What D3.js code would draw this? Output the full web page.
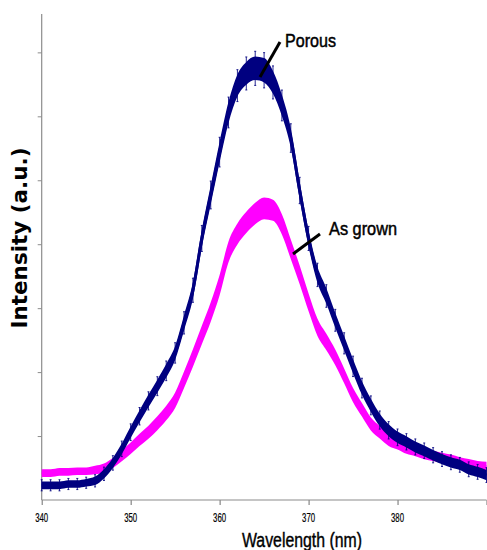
<!DOCTYPE html>
<html>
<head>
<meta charset="utf-8">
<script src="https://cdn.jsdelivr.net/npm/d3@7"></script>
<style>
  body { margin: 0; background: #fff; }
  svg { display: block; }
  .axis-line { stroke: #8c8c8c; stroke-width: 1.2; }
  .tick-label { font-family: "Liberation Sans", Arial, sans-serif; font-size: 12px; fill: #000; stroke: #000; stroke-width: 0.2; }
  .x-title { font-family: "Liberation Sans", Arial, sans-serif; font-size: 20px; fill: #000; stroke: #000; stroke-width: 0.4; }
  .y-title { font-family: "DejaVu Sans", Verdana, sans-serif; font-size: 21px; font-weight: bold; fill: #000; }
  .note { font-family: "Liberation Sans", Arial, sans-serif; font-size: 19px; fill: #000; stroke: #000; stroke-width: 0.5; }
</style>
</head>
<body>
<svg id="chart" width="487" height="550"></svg>
<script>
// wavelength (nm), one reading per nm
const wavelengths = d3.range(340, 391);

// PL intensity (a.u.)
const porous = [
  0.23, 0.23, 0.23, 0.25, 0.25, 0.27, 0.30, 0.41, 0.58, 0.80,
  1.06, 1.31, 1.55, 1.78, 2.02, 2.30, 2.77, 3.28, 4.09, 4.77,
  5.44, 6.06, 6.48, 6.67, 6.75, 6.72, 6.53, 6.17, 5.66, 4.84,
  4.09, 3.52, 3.19, 2.81, 2.45, 2.09, 1.75, 1.48, 1.25, 1.09,
  0.98, 0.91, 0.83, 0.77, 0.70, 0.64, 0.59, 0.55, 0.48, 0.44,
  0.39
];
const asGrown = [
  0.42, 0.42, 0.44, 0.44, 0.45, 0.45, 0.47, 0.50, 0.58, 0.69,
  0.81, 0.94, 1.06, 1.20, 1.36, 1.56, 1.88, 2.22, 2.58, 2.94,
  3.36, 3.88, 4.16, 4.34, 4.48, 4.56, 4.53, 4.31, 3.92, 3.52,
  3.09, 2.70, 2.47, 2.23, 1.94, 1.64, 1.41, 1.19, 1.06, 0.94,
  0.88, 0.81, 0.77, 0.72, 0.69, 0.66, 0.63, 0.59, 0.56, 0.53,
  0.52
];

// noise half-width of each trace, every 5 nm
const noiseWl = [340, 345, 350, 355, 360, 365, 370, 375, 380, 385, 390];
const porousNoise = [0.06, 0.06, 0.09, 0.11, 0.16, 0.19, 0.13, 0.11, 0.09, 0.08, 0.08];
const grownNoise = [0.06, 0.06, 0.09, 0.12, 0.16, 0.17, 0.14, 0.11, 0.09, 0.08, 0.08];

const xTicks = [340, 350, 360, 370, 380, 390];
const xTickLabels = ["340", "350", "360", "370", "380", ""];
const yTicks = [1, 2, 3, 4, 5, 6, 7];

const X_TITLE = "Wavelength (nm)";
const Y_TITLE = "Intensity (a.u.)";

const COLOR_POROUS = "#000080";
const COLOR_GROWN = "#ff00ff";

function spectrumChart(selector) {
    const svg = d3.select(selector);
    const plot = { left: 41.7, right: 486.5, top: 14, bottom: 500 };

    const x = d3.scaleLinear().domain([340, 390]).range([plot.left, plot.right]);
    const y = d3.scaleLinear().domain([0, 7.6]).range([plot.bottom, plot.top]);

    // Axes
    // ----------------------------------------
    const yAxis = d3.axisLeft(y).tickValues(yTicks).tickSize(4).tickFormat("");
    svg.append("g")
        .attr("transform", `translate(${plot.left},0)`)
        .call(yAxis)
        .call(g => g.select(".domain").remove())
        .call(g => g.selectAll("line").attr("stroke", "#8c8c8c"));
    svg.append("line")
        .attr("class", "axis-line")
        .attr("x1", plot.left).attr("x2", plot.left)
        .attr("y1", plot.top).attr("y2", plot.bottom);

    const xAxis = d3.axisBottom(x).tickValues(xTicks).tickSize(5).tickFormat("");
    svg.append("g")
        .attr("transform", `translate(0,${plot.bottom})`)
        .call(xAxis)
        .call(g => g.select(".domain").remove())
        .call(g => g.selectAll("line").attr("stroke", "#6e6e6e"));
    svg.append("line")
        .attr("class", "axis-line")
        .attr("x1", plot.left).attr("x2", plot.right)
        .attr("y1", plot.bottom).attr("y2", plot.bottom);

    // narrow tick labels, as in the original
    svg.append("g")
        .selectAll("text")
        .data(xTicks.filter((d, i) => xTickLabels[i] !== ""))
        .join("text")
        .attr("class", "tick-label")
        .attr("x", d => x(d))
        .attr("y", 522)
        .attr("text-anchor", "middle")
        .attr("textLength", 13)
        .attr("lengthAdjust", "spacingAndGlyphs")
        .text((d, i) => xTickLabels[i]);

    svg.append("text")
        .attr("class", "x-title")
        .attr("x", 302)
        .attr("y", 547)
        .attr("text-anchor", "middle")
        .attr("textLength", 120)
        .attr("lengthAdjust", "spacingAndGlyphs")
        .text(X_TITLE);

    svg.append("text")
        .attr("class", "y-title")
        .attr("transform", "translate(27,238) rotate(-90)")
        .attr("text-anchor", "middle")
        .attr("textLength", 181)
        .attr("lengthAdjust", "spacingAndGlyphs")
        .text(Y_TITLE);

    // Traces
    // ----------------------------------------
    function trace(values, noise, color, bars) {
        const spread = d3.scaleLinear().domain(noiseWl).range(noise);
        const pts = wavelengths.map((w, i) => ({ w: w, v: values[i], s: spread(w) }));
        const g = svg.append("g");

        const band = d3.area()
            .x(d => x(d.w))
            .y0(d => y(d.v - d.s))
            .y1(d => y(d.v + d.s))
            .curve(d3.curveMonotoneX);
        g.append("path")
            .datum(pts)
            .attr("fill", color)
            .attr("d", band);

        const line = d3.line()
            .x(d => x(d.w))
            .y(d => y(d.v))
            .curve(d3.curveMonotoneX);
        g.append("path")
            .datum(pts)
            .attr("fill", "none")
            .attr("stroke", color)
            .attr("stroke-width", 3)
            .attr("d", line);

        if (bars) {
            // vertical error bars with small caps
            const k = 1.45;
            const eb = g.selectAll("g.eb")
                .data(pts)
                .join("g")
                .attr("class", "eb")
                .attr("stroke", color)
                .attr("stroke-opacity", 0.85)
                .attr("stroke-width", 1);
            eb.append("line")
                .attr("x1", d => x(d.w)).attr("x2", d => x(d.w))
                .attr("y1", d => y(d.v - d.s * k))
                .attr("y2", d => y(d.v + d.s * k));
            eb.append("line")
                .attr("x1", d => x(d.w) - 1).attr("x2", d => x(d.w) + 1)
                .attr("y1", d => y(d.v + d.s * k))
                .attr("y2", d => y(d.v + d.s * k));
            eb.append("line")
                .attr("x1", d => x(d.w) - 1).attr("x2", d => x(d.w) + 1)
                .attr("y1", d => y(d.v - d.s * k))
                .attr("y2", d => y(d.v - d.s * k));
        }
    }

    trace(asGrown, grownNoise, COLOR_GROWN, false);
    trace(porous, porousNoise, COLOR_POROUS, true);

    // Labels with pointers
    // ----------------------------------------
    const notes = svg.append("g");
    notes.append("line")
        .attr("x1", 280).attr("y1", 42)
        .attr("x2", 260).attr("y2", 77)
        .attr("stroke", "#000").attr("stroke-width", 3);
    notes.append("text")
        .attr("class", "note")
        .attr("x", 285).attr("y", 47)
        .attr("textLength", 51)
        .attr("lengthAdjust", "spacingAndGlyphs")
        .text("Porous");

    notes.append("line")
        .attr("x1", 320).attr("y1", 234)
        .attr("x2", 293).attr("y2", 254)
        .attr("stroke", "#000").attr("stroke-width", 3);
    notes.append("text")
        .attr("class", "note")
        .attr("x", 329).attr("y", 235)
        .attr("textLength", 68)
        .attr("lengthAdjust", "spacingAndGlyphs")
        .text("As grown");
}

spectrumChart("#chart");
</script>
</body>
</html>
